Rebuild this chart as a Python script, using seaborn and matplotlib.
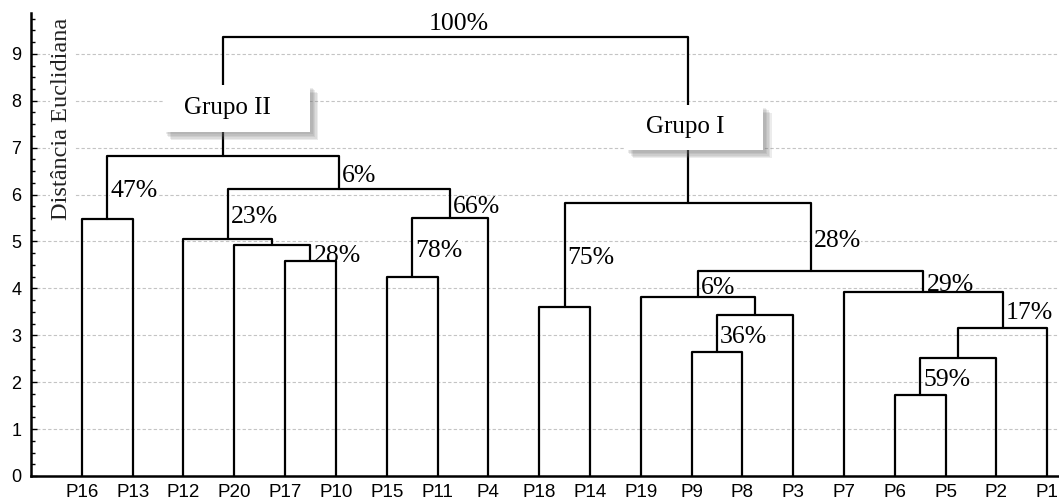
import matplotlib
matplotlib.use("Agg")
import matplotlib.pyplot as plt
from matplotlib import patheffects as pe
from matplotlib.patches import Rectangle
from matplotlib.ticker import AutoMinorLocator
import pandas as pd
import seaborn as sns

# Leaves in dendrogram order
leaves = ["P16", "P13", "P12", "P20", "P17", "P10", "P15", "P11", "P4",
          "P18", "P14", "P19", "P9", "P8", "P3", "P7", "P6", "P5", "P2", "P1"]

# Agglomeration steps: indices < 20 are leaves, 20+ are earlier merges
merge_left = [0, 4, 3, 2, 6, 24, 23, 20, 9, 12, 29, 11, 16, 32, 33, 15, 31, 28, 27]
merge_right = [1, 5, 21, 22, 7, 8, 25, 26, 10, 13, 14, 30, 17, 18, 19, 34, 35, 36, 37]
merge_height = [5.48, 4.58, 4.93, 5.06, 4.24, 5.51, 6.12, 6.83, 3.61, 2.65,
                3.43, 3.81, 1.73, 2.52, 3.16, 3.92, 4.36, 5.82, 9.36]

# Support percentages attached to clusters
pct_node = [20, 26, 23, 21, 25, 24, 28, 36, 31, 29, 35, 34, 32]
pct_text = ["47%", "6%", "23%", "28%", "66%", "78%", "75%", "28%", "6%",
            "36%", "29%", "17%", "59%"]
root_text = "100%"

group_names = ["Grupo II", "Grupo I"]
y_ticks = list(range(10))
y_label = "Distância Euclidiana"

sns.set_theme(style="ticks")
plt.rcParams["font.family"] = ["Liberation Sans", "DejaVu Sans"]
SERIF = ["Liberation Serif", "DejaVu Serif"]

# Build the U-shaped segments of the tree
n = len(leaves)
xpos = [float(i) for i in range(n)]
ypos = [0.0] * n
parent = {}
rows = []
for k, (a, b, h) in enumerate(zip(merge_left, merge_right, merge_height)):
    node = n + k
    for px, py in [(xpos[a], ypos[a]), (xpos[a], h), (xpos[b], h), (xpos[b], ypos[b])]:
        rows.append({"seg": node, "x": px, "y": py})
    parent[a] = node
    parent[b] = node
    xpos.append((xpos[a] + xpos[b]) / 2)
    ypos.append(h)
segments = pd.DataFrame(rows)

W, H = 1059, 501
fig = plt.figure(figsize=(W / 100, H / 100), dpi=100)
ax = fig.add_axes([31 / W, 25 / H, (W - 31) / W, 463 / H])

sns.lineplot(data=segments, x="x", y="y", units="seg", estimator=None,
             sort=False, color="black", linewidth=1.6, ax=ax, legend=False,
             zorder=3)

ax.set_xlim(-1.0, 19.23)
ax.set_ylim(0, 9.87)

# Axes styling
for side in ("top", "right"):
    ax.spines[side].set_visible(False)
for side in ("left", "bottom"):
    ax.spines[side].set_linewidth(1.8)
    ax.spines[side].set_color("black")

ax.set_yticks(y_ticks)
ax.yaxis.set_minor_locator(AutoMinorLocator(4))
ax.tick_params(axis="y", which="major", direction="in", length=4, width=1,
               pad=7, labelsize=13, colors="black")
ax.tick_params(axis="y", which="minor", direction="in", length=3, width=1,
               colors="black")
ax.set_xticks(range(n))
ax.set_xticklabels(leaves)
ax.tick_params(axis="x", which="both", length=0, pad=6, labelsize=13.5,
               colors="black")
ax.set_xlabel("")
ax.set_ylabel("")

ax.set_axisbelow(True)
ax.yaxis.grid(True, which="major", linestyle=(0, (3, 2)), color="#c4c4c4",
              linewidth=0.8)
ax.xaxis.grid(False)

# Axis title inside the plot
ax.text(0.030, 7.62, y_label, transform=ax.get_yaxis_transform(),
        rotation=90, ha="center", va="center", fontsize=17.5, family=SERIF,
        color="#222222", zorder=5,
        bbox=dict(facecolor="white", edgecolor="none", pad=1))

# Percentage labels beside each cluster stem (drawn under the tree lines)
for node, txt in zip(pct_node, pct_text):
    top = ypos[parent[node]]
    ymid = (ypos[node] + top) / 2 - 0.07
    ax.text(xpos[node] + 0.06, ymid, txt, ha="left", va="center",
            fontsize=18.5, family=SERIF, color="black", zorder=2.5,
            bbox=dict(facecolor="white", edgecolor="none", pad=0))

root = n + len(merge_height) - 1
ax.text(xpos[root] + 0.07, ypos[root] + 0.04, root_text, ha="center",
        va="bottom", fontsize=18.5, family=SERIF, color="black", zorder=4)

# Group boxes with a soft drop shadow
shadow = [pe.SimplePatchShadow(offset=(d, -d), shadow_rgbFace="#707070",
                               alpha=0.13) for d in (6, 5, 4, 3, 2)]
boxes = [(3.04, 7.84, 2.89, 1.0), (12.05, 7.43, 2.72, 0.96)]
for name, (cx, cy, bw, bh) in zip(group_names, boxes):
    rect = Rectangle((cx - bw / 2, cy - bh / 2), bw, bh, facecolor="white",
                     edgecolor="none", zorder=6)
    rect.set_path_effects(shadow + [pe.Normal()])
    ax.add_patch(rect)
    ax.text(cx - 0.18, cy, name, ha="center", va="center", fontsize=18,
            family=SERIF, color="black", zorder=7)

fig.savefig("out.png", dpi=100)
